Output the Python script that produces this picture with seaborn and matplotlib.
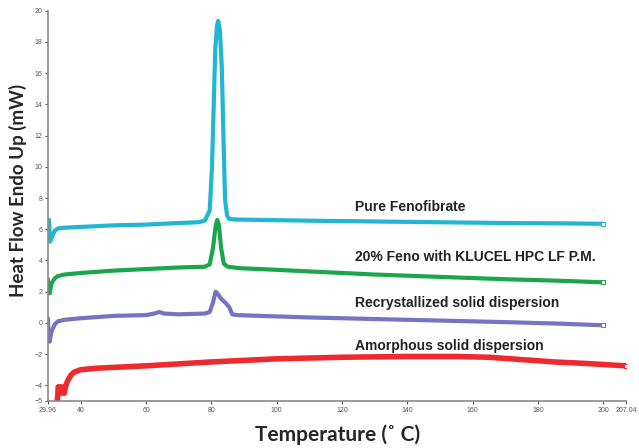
import numpy as np
import pandas as pd
import matplotlib
matplotlib.use('Agg')
import matplotlib.pyplot as plt
import seaborn as sns

# curvas DSC
temp_pura = [29.96, 30.3, 30.6, 31.2, 32, 33, 35, 40, 50, 60, 70, 76, 78, 79.5, 80.2, 80.8,
             81.2, 81.7, 82.1, 82.6, 83.2, 83.7, 84.2, 84.8, 85.5, 88, 95, 110, 130, 150,
             170, 187, 200]
flujo_pura = [6.2, 6.6, 5.2, 5.5, 5.9, 6.05, 6.1, 6.15, 6.25, 6.3, 6.4, 6.45, 6.55, 7.2, 10,
              14.5, 17.5, 19.0, 19.35, 18.8, 16.4, 12, 7.9, 6.9, 6.65, 6.62, 6.6, 6.55, 6.5,
              6.45, 6.4, 6.38, 6.35]

temp_pm = [29.96, 30.2, 30.5, 31, 32, 33, 35, 40, 50, 60, 70, 78, 79.5, 80.5, 81.3, 81.8,
           82.3, 83, 83.8, 85, 89, 95, 110, 130, 150, 170, 187, 200]
flujo_pm = [2.8, 2.0, 1.9, 2.5, 2.85, 3.0, 3.1, 3.2, 3.35, 3.45, 3.55, 3.6, 3.75, 4.8, 6.2,
            6.6, 6.3, 4.8, 3.8, 3.6, 3.5, 3.45, 3.3, 3.1, 2.95, 2.8, 2.7, 2.6]

temp_recr = [29.96, 30.2, 30.5, 31, 32, 33, 35, 40, 50, 60, 62.5, 64, 65.5, 70, 78, 79.5,
             80.5, 81.3, 82, 83, 84.5, 85.5, 86.4, 88, 95, 110, 130, 150, 170, 187, 200]
flujo_recr = [0.3, -0.9, -1.2, -0.6, -0.1, 0.1, 0.2, 0.3, 0.45, 0.5, 0.6, 0.7, 0.6, 0.55,
              0.6, 0.7, 1.3, 2.0, 1.85, 1.55, 1.25, 1.0, 0.55, 0.5, 0.45, 0.35, 0.25, 0.15,
              0.05, -0.05, -0.15]

temp_amorf = [32.8, 33.0, 33.1, 34.2, 34.3, 35.0, 35.3, 36, 37, 38, 40, 45, 50, 60, 80, 100,
              120, 140, 155, 165, 175, 185, 195, 207]
flujo_amorf = [-5.0, -4.6, -4.1, -4.1, -4.5, -4.5, -4.1, -3.7, -3.35, -3.15, -3.0, -2.9,
               -2.85, -2.75, -2.5, -2.3, -2.2, -2.15, -2.15, -2.2, -2.35, -2.5, -2.6, -2.75]

etiquetas = ['Pure Fenofibrate', '20% Feno with KLUCEL HPC LF P.M.',
             'Recrystallized solid dispersion', 'Amorphous solid dispersion']
etiqueta_y = [7.4, 4.2, 1.3, -1.5]
colores = ['#22b6d2', '#1ba64c', '#7474c2', '#ee2a2e']

xticks = [29.96, 40, 60, 80, 100, 120, 140, 160, 180, 200, 207.04]
xtick_labels = ['29.96', '40', '60', '80', '100', '120', '140', '160', '180', '200', '207.04']
yticks = [-5, -4, -2, 0, 2, 4, 6, 8, 10, 12, 14, 16, 18, 20]

curvas = [(temp_pura, flujo_pura), (temp_pm, flujo_pm),
          (temp_recr, flujo_recr), (temp_amorf, flujo_amorf)]

sns.set_style('white')
fig = plt.figure(figsize=(6.39, 4.48), dpi=100)
ax = fig.add_axes([0.075, 0.105, 0.905, 0.871])

for (t, f), color in zip(curvas, colores):
    df = pd.DataFrame({'tiempo': t, 'flujo': f})
    lw = 4 if color == '#ee2a2e' else 3
    sns.lineplot(data=df, x='tiempo', y='flujo', sort=False, estimator=None, color=color,
                 lw=lw, marker='s', markevery=[len(t) - 1], markersize=3,
                 markerfacecolor='white', markeredgecolor=color, ax=ax)

for texto, y in zip(etiquetas, etiqueta_y):
    ax.text(124, y, texto, fontsize=10, fontweight='bold', family='Liberation Sans',
            va='center', ha='left', color='#222222')

ax.set_xlim(29.96, 207.04)
ax.set_ylim(-5, 20)
ax.set_xticks(xticks)
ax.set_xticklabels(xtick_labels)
ax.set_yticks(yticks)
ax.tick_params(labelsize=5, colors='#555555', length=2, width=0.8, direction='out',
               left=True, bottom=True, pad=2)
for lab in ax.get_xticklabels() + ax.get_yticklabels():
    lab.set_family('Liberation Sans')
for s in ['top', 'right']:
    ax.spines[s].set_visible(False)
for s in ['left', 'bottom']:
    ax.spines[s].set_color('#8a8a8a')
    ax.spines[s].set_linewidth(1.2)

ax.set_xlabel('Temperature (\u02da C)', fontsize=15, fontweight='bold', family='Lato',
              labelpad=8)
ax.set_ylabel('Heat Flow Endo Up (mW)', fontsize=13.5, fontweight='bold', family='Lato')
ax.yaxis.set_label_coords(-0.036, 0.54)

fig.savefig('out.png', dpi=100)
